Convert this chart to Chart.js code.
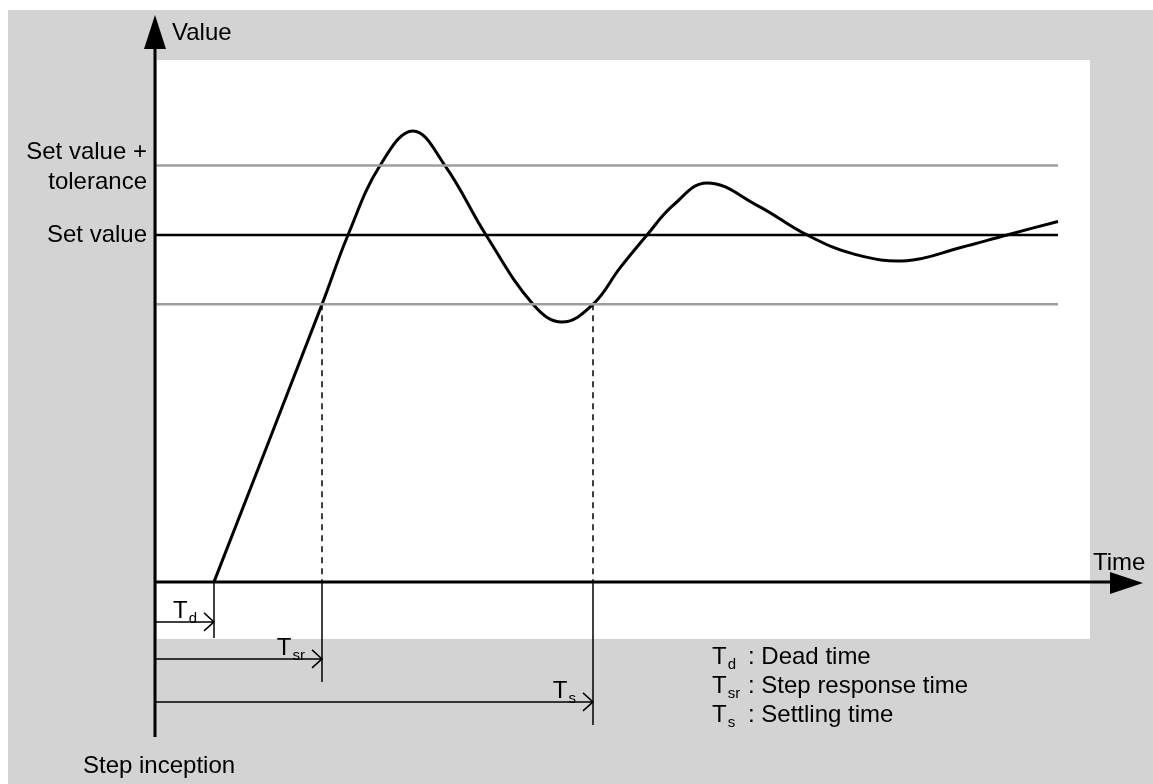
<!DOCTYPE html>
<html>
<head>
<meta charset="utf-8">
<script src="https://cdn.jsdelivr.net/npm/chart.js@4/dist/chart.umd.min.js"></script>
<style>
  html, body { margin: 0; padding: 0; background: #fff; }
  canvas { display: block; }
</style>
</head>
<body>
<canvas id="myChart" width="1153" height="784"></canvas>
<script>
// step response curve (time units, value in % of set value)
const responseTime  = [5.9, 16.7, 19.3, 22.5, 25.8, 29.0, 33.1, 37.8, 40.7, 43.8, 46.5, 49.2, 51.8, 55.2, 60.3, 65.2, 70.0, 75.2, 80.5, 85.2, 90.3];
const responseValue = [0, 80, 100, 120, 130, 120, 100, 80, 74.9, 80, 90.5, 100, 108.5, 115, 108.4, 100, 94.4, 92.6, 96.3, 100, 103.9];

const setValue = 100;
const tolerance = 20;
const referenceEnd = 90.3;

const deadTime = 5.9;
const stepResponseTime = 16.7;
const settlingTime = 43.8;

const yLabels = ['Set value +', 'tolerance', 'Set value'];
const timeMarks = [
  { sub: 'd',  t: deadTime,         text: 'Dead time' },
  { sub: 'sr', t: stepResponseTime, text: 'Step response time' },
  { sub: 's',  t: settlingTime,     text: 'Settling time' }
];

const FONT = "'Liberation Sans', Arial, sans-serif";
const GRAY_BG = '#d3d3d3';

const ctx = document.getElementById('myChart');

function hline(y, x0, x1) {
  return [{ x: x0, y: y }, { x: x1, y: y }];
}

function drawT(c, sub, x, y) {
  c.font = '24px ' + FONT;
  c.textAlign = 'left';
  c.fillText('T', x, y);
  const w = c.measureText('T').width;
  c.font = '15px ' + FONT;
  c.fillText(sub, x + w + 1, y + 5);
  return w + c.measureText(sub).width;
}

const backdrop = {
  id: 'backdrop',
  beforeDraw(chart) {
    const c = chart.ctx;
    const xs = chart.scales.x, ys = chart.scales.y;
    c.save();
    c.fillStyle = '#fff';
    c.fillRect(0, 0, chart.width, chart.height);
    c.fillStyle = GRAY_BG;
    c.fillRect(8, 10, chart.width - 8, chart.height - 10);
    // white plotting field
    const left = xs.getPixelForValue(0) + 2;
    const right = xs.getPixelForValue(93.5);
    const top = ys.getPixelForValue(150.4);
    const bottom = ys.getPixelForValue(0) + 57;
    c.fillStyle = '#fff';
    c.fillRect(left, top, right - left, bottom - top);
    c.restore();
  },
  afterDraw(chart) {
    const c = chart.ctx;
    const xs = chart.scales.x, ys = chart.scales.y;
    const x0 = xs.getPixelForValue(0);
    const y0 = ys.getPixelForValue(0);
    const xTip = xs.getPixelForValue(xs.max);
    const yTip = ys.getPixelForValue(ys.max);
    c.save();
    c.strokeStyle = '#000';
    c.fillStyle = '#000';

    // drop lines below the time axis + arrows
    const drops = [56, 100, 143];
    const arrowY = [40, 77, 120];
    c.lineWidth = 1.5;
    timeMarks.forEach((m, i) => {
      const px = xs.getPixelForValue(m.t);
      c.beginPath();
      c.moveTo(px, y0);
      c.lineTo(px, y0 + drops[i]);
      c.stroke();
      const ay = y0 + arrowY[i];
      c.beginPath();
      c.moveTo(x0, ay);
      c.lineTo(px, ay);
      c.moveTo(px - 10, ay - 9);
      c.lineTo(px, ay);
      c.lineTo(px - 10, ay + 9);
      c.stroke();
      // label above arrow
      c.font = '24px ' + FONT;
      const wT = c.measureText('T').width;
      c.font = '15px ' + FONT;
      const wS = c.measureText(m.sub).width;
      drawT(c, m.sub, px - 18 - wT - wS, ay - 4);
    });

    // axes
    c.lineWidth = 3;
    c.beginPath();
    c.moveTo(x0, y0 + 155);
    c.lineTo(x0, yTip + 30);
    c.moveTo(x0 - 1.5, y0);
    c.lineTo(xTip - 30, y0);
    c.stroke();
    c.beginPath();
    c.moveTo(x0, yTip);
    c.lineTo(x0 - 11, yTip + 34);
    c.lineTo(x0 + 11, yTip + 34);
    c.closePath();
    c.fill();
    c.beginPath();
    c.moveTo(xTip, y0 + 1);
    c.lineTo(xTip - 33, y0 - 10);
    c.lineTo(xTip - 33, y0 + 12);
    c.closePath();
    c.fill();

    // axis titles
    c.font = '24px ' + FONT;
    c.textAlign = 'left';
    c.textBaseline = 'alphabetic';
    c.fillText('Value', x0 + 17, yTip + 25);
    c.fillText('Time', xTip - 50, y0 - 12);
    c.fillText('Step inception', x0 - 72, y0 + 191);

    // value labels
    c.textAlign = 'right';
    const up = ys.getPixelForValue(setValue + tolerance);
    const sv = ys.getPixelForValue(setValue);
    c.fillText(yLabels[0], x0 - 8, up - 7);
    c.fillText(yLabels[1], x0 - 8, up + 23);
    c.fillText(yLabels[2], x0 - 8, sv + 7);

    // legend
    const lx = 712;
    timeMarks.forEach((m, i) => {
      const by = y0 + 82 + i * 29;
      drawT(c, m.sub, lx, by);
      c.font = '24px ' + FONT;
      c.textAlign = 'left';
      c.fillText(': ' + m.text, lx + 36, by);
    });
    c.restore();
  }
};

new Chart(ctx, {
  type: 'line',
  data: {
    datasets: [
      {
        label: 'upper tolerance',
        data: hline(setValue + tolerance, 0, referenceEnd),
        borderColor: '#9e9e9e',
        borderWidth: 2.5,
        pointRadius: 0
      },
      {
        label: 'lower tolerance',
        data: hline(setValue - tolerance, 0, referenceEnd),
        borderColor: '#9e9e9e',
        borderWidth: 2.5,
        pointRadius: 0
      },
      {
        label: 'set value',
        data: hline(setValue, 0, referenceEnd),
        borderColor: '#000',
        borderWidth: 2.5,
        pointRadius: 0
      },
      {
        label: 'Tsr marker',
        data: [{ x: stepResponseTime, y: setValue - tolerance }, { x: stepResponseTime, y: 0 }],
        borderColor: '#000',
        borderWidth: 1.5,
        borderDash: [6, 5],
        pointRadius: 0
      },
      {
        label: 'Ts marker',
        data: [{ x: settlingTime, y: setValue - tolerance }, { x: settlingTime, y: 0 }],
        borderColor: '#000',
        borderWidth: 1.5,
        borderDash: [6, 5],
        pointRadius: 0
      },
      {
        label: 'response',
        data: responseTime.map((t, i) => ({ x: t, y: responseValue[i] })),
        borderColor: '#000',
        borderWidth: 3,
        pointRadius: 0,
        tension: 0.4
      }
    ]
  },
  options: {
    responsive: false,
    animation: false,
    devicePixelRatio: 1,
    layout: { padding: { left: 155, right: 10, top: 15, bottom: 47 } },
    plugins: { legend: { display: false }, tooltip: { enabled: false } },
    scales: {
      x: { type: 'linear', min: 0, max: 98.8, display: false },
      y: { type: 'linear', min: -44.7, max: 163.4, display: false }
    }
  },
  plugins: [backdrop]
});
</script>
</body>
</html>
